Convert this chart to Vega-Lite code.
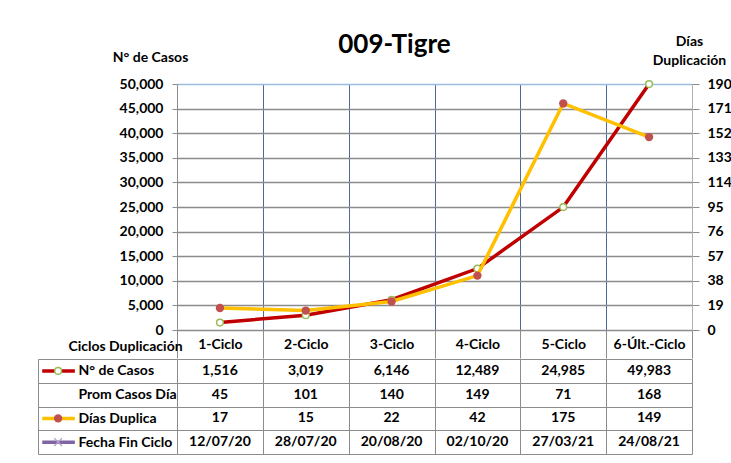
{
  "$schema": "https://vega.github.io/schema/vega-lite/v6.json",
  "autosize": {"type": "pad"},
  "padding": {"left": 37, "top": 32, "right": 0, "bottom": 5},
  "background": "white",
  "title": {"text": "009-Tigre", "fontSize": 26, "fontWeight": "bold", "color": "black", "anchor": "middle", "offset": -24, "dx": 10},
  "datasets": {
    "ciclos": [
      {"ciclo": "1-Ciclo", "casos": 1516, "prom": 45, "dias": 17, "fecha": "12/07/20"},
      {"ciclo": "2-Ciclo", "casos": 3019, "prom": 101, "dias": 15, "fecha": "28/07/20"},
      {"ciclo": "3-Ciclo", "casos": 6146, "prom": 140, "dias": 22, "fecha": "20/08/20"},
      {"ciclo": "4-Ciclo", "casos": 12489, "prom": 149, "dias": 42, "fecha": "02/10/20"},
      {"ciclo": "5-Ciclo", "casos": 24985, "prom": 71, "dias": 175, "fecha": "27/03/21"},
      {"ciclo": "6-Últ.-Ciclo", "casos": 49983, "prom": 168, "dias": 149, "fecha": "24/08/21"}
    ]
  },
  "spacing": -7,
  "vconcat": [
    {
      "width": 515,
      "height": 246,
      "data": {"name": "ciclos"},
      "encoding": {
        "x": {
          "field": "ciclo", "type": "nominal", "sort": null,
          "scale": {"domain": ["1-Ciclo", "2-Ciclo", "3-Ciclo", "4-Ciclo", "5-Ciclo", "6-Últ.-Ciclo"], "paddingInner": 0, "paddingOuter": 0},
          "axis": {
            "title": "Ciclos Duplicación", "titleX": -52, "titleY": 16, "titleAlign": "center", "titleBaseline": "middle",
            "titleFontSize": 14, "titleFontWeight": "bold", "titleColor": "black",
            "labelAngle": 0, "labelFontSize": 14, "labelFontWeight": "bold", "labelColor": "black", "labelPadding": -21, "labelBaseline": "top",
            "tickBand": "extent", "tickSize": 28, "tickColor": "#8c8c8c",
            "domain": true, "domainColor": "#8c8c8c",
            "grid": true, "gridColor": "#4a6a9a", "gridWidth": 1
          }
        }
      },
      "layer": [
        {
          "layer": [
            {
              "mark": {"type": "line", "color": "#c00000", "strokeWidth": 3.5},
              "encoding": {
                "y": {
                  "field": "casos", "type": "quantitative",
                  "scale": {"domain": [0, 50000], "nice": false},
                  "axis": {
                    "title": "N° de Casos", "titleAngle": 0, "titleX": -27, "titleY": -27, "titleAlign": "center", "titleBaseline": "middle",
                    "titleFontSize": 14, "titleFontWeight": "bold", "titleColor": "black",
                    "values": [0, 5000, 10000, 15000, 20000, 25000, 30000, 35000, 40000, 45000, 50000], "tickCount": 11,
                    "format": ",d", "labelOverlap": false, "labelFontSize": 14, "labelFontWeight": "bold", "labelColor": "black", "labelPadding": 9,
                    "tickSize": 5, "tickColor": "#8c8c8c", "domainColor": "#8c8c8c",
                    "grid": true,
                    "gridColor": {"condition": {"test": "datum.value === 50000", "value": "#9dbbe0"}, "value": "#8c8c8c"},
                    "gridWidth": 1.3
                  }
                }
              }
            },
            {
              "mark": {"type": "point", "shape": "circle", "filled": true, "fill": "white", "stroke": "#9bbb59", "strokeWidth": 1.5, "size": 45, "opacity": 1},
              "encoding": {"y": {"field": "casos", "type": "quantitative"}}
            }
          ]
        },
        {
          "layer": [
            {
              "mark": {"type": "line", "color": "#ffc000", "strokeWidth": 3.5},
              "encoding": {
                "y": {
                  "field": "dias", "type": "quantitative",
                  "scale": {"domain": [0, 190], "nice": false},
                  "axis": {
                    "orient": "right",
                    "title": ["Días", "Duplicación"], "titleAngle": 0, "titleX": -3, "titleY": -50, "titleAlign": "center", "titleBaseline": "top",
                    "titleLineHeight": 19, "titleFontSize": 14, "titleFontWeight": "bold", "titleColor": "black",
                    "values": [0, 19, 38, 57, 76, 95, 114, 133, 152, 171, 190], "tickCount": 11,
                    "format": "d", "labelOverlap": false, "labelFontSize": 14, "labelFontWeight": "bold", "labelColor": "black", "labelPadding": 8,
                    "tickSize": 7, "tickColor": "#8c8c8c", "domainColor": "#b0b0b0",
                    "grid": false
                  }
                }
              }
            },
            {
              "mark": {"type": "point", "shape": "circle", "filled": true, "color": "#c0504d", "size": 70, "opacity": 1},
              "encoding": {"y": {"field": "dias", "type": "quantitative"}}
            }
          ]
        }
      ],
      "resolve": {"scale": {"y": "independent"}, "axis": {"y": "independent"}}
    },
    {
      "width": 515,
      "height": 95,
      "layer": [
        {
          "data": {"name": "ciclos"},
          "mark": {"type": "text", "fontSize": 14, "fontWeight": "bold", "color": "black"},
          "encoding": {
            "x": {
              "field": "ciclo", "type": "nominal", "sort": null,
              "scale": {"domain": ["1-Ciclo", "2-Ciclo", "3-Ciclo", "4-Ciclo", "5-Ciclo", "6-Últ.-Ciclo"], "paddingInner": 0, "paddingOuter": 0},
              "axis": {"title": null, "labels": false, "ticks": false, "domain": false, "grid": true, "tickBand": "extent", "gridColor": "#8c8c8c", "gridWidth": 1}
            },
            "y": {
              "datum": "N° de Casos", "type": "nominal",
              "scale": {"domain": ["N° de Casos", "Prom Casos Día", "Días Duplica", "Fecha Fin Ciclo"], "paddingInner": 0, "paddingOuter": 0},
              "axis": {
                "title": null, "tickBand": "extent", "offset": 139, "tickSize": -139, "tickColor": "#8c8c8c",
                "domain": true, "domainColor": "#8c8c8c", "grid": true, "gridColor": "#8c8c8c", "gridWidth": 1,
                "labelAlign": "left", "labelPadding": 99, "labelFontSize": 14, "labelFontWeight": "bold", "labelColor": "black"
              }
            },
            "text": {"field": "casos", "type": "quantitative", "format": ","}
          }
        },
        {
          "data": {"name": "ciclos"},
          "mark": {"type": "text", "fontSize": 14, "fontWeight": "bold", "color": "black"},
          "encoding": {
            "x": {"field": "ciclo", "type": "nominal", "sort": null, "scale": {"domain": ["1-Ciclo", "2-Ciclo", "3-Ciclo", "4-Ciclo", "5-Ciclo", "6-Últ.-Ciclo"], "paddingInner": 0, "paddingOuter": 0}, "axis": null},
            "y": {"datum": "Prom Casos Día", "type": "nominal"},
            "text": {"field": "prom", "type": "quantitative"}
          }
        },
        {
          "data": {"name": "ciclos"},
          "mark": {"type": "text", "fontSize": 14, "fontWeight": "bold", "color": "black"},
          "encoding": {
            "x": {"field": "ciclo", "type": "nominal", "sort": null, "scale": {"domain": ["1-Ciclo", "2-Ciclo", "3-Ciclo", "4-Ciclo", "5-Ciclo", "6-Últ.-Ciclo"], "paddingInner": 0, "paddingOuter": 0}, "axis": null},
            "y": {"datum": "Días Duplica", "type": "nominal"},
            "text": {"field": "dias", "type": "quantitative"}
          }
        },
        {
          "data": {"name": "ciclos"},
          "mark": {"type": "text", "fontSize": 14, "fontWeight": "bold", "color": "black"},
          "encoding": {
            "x": {"field": "ciclo", "type": "nominal", "sort": null, "scale": {"domain": ["1-Ciclo", "2-Ciclo", "3-Ciclo", "4-Ciclo", "5-Ciclo", "6-Últ.-Ciclo"], "paddingInner": 0, "paddingOuter": 0}, "axis": null},
            "y": {"datum": "Fecha Fin Ciclo", "type": "nominal"},
            "text": {"field": "fecha", "type": "nominal"}
          }
        },
        {
          "data": {"values": [{}]},
          "mark": {"type": "rule", "color": "#c00000", "strokeWidth": 3.5},
          "encoding": {
            "x": {"datum": -1.57, "type": "quantitative", "scale": {"domain": [0, 6], "nice": false, "zero": false}, "axis": null},
            "x2": {"datum": -1.19},
            "y": {"datum": "N° de Casos", "type": "nominal"}
          }
        },
        {
          "data": {"values": [{}]},
          "mark": {"type": "point", "shape": "circle", "filled": true, "fill": "white", "stroke": "#9bbb59", "strokeWidth": 1.5, "size": 45, "opacity": 1},
          "encoding": {
            "x": {"datum": -1.385, "type": "quantitative", "scale": {"domain": [0, 6], "nice": false, "zero": false}, "axis": null},
            "y": {"datum": "N° de Casos", "type": "nominal"}
          }
        },
        {
          "data": {"values": [{}]},
          "mark": {"type": "rule", "color": "#ffc000", "strokeWidth": 3.5},
          "encoding": {
            "x": {"datum": -1.57, "type": "quantitative", "scale": {"domain": [0, 6], "nice": false, "zero": false}, "axis": null},
            "x2": {"datum": -1.19},
            "y": {"datum": "Días Duplica", "type": "nominal"}
          }
        },
        {
          "data": {"values": [{}]},
          "mark": {"type": "point", "shape": "circle", "filled": true, "color": "#c0504d", "size": 70, "opacity": 1},
          "encoding": {
            "x": {"datum": -1.385, "type": "quantitative", "scale": {"domain": [0, 6], "nice": false, "zero": false}, "axis": null},
            "y": {"datum": "Días Duplica", "type": "nominal"}
          }
        },
        {
          "data": {"values": [{}]},
          "mark": {"type": "rule", "color": "#8064a2", "strokeWidth": 3.5},
          "encoding": {
            "x": {"datum": -1.57, "type": "quantitative", "scale": {"domain": [0, 6], "nice": false, "zero": false}, "axis": null},
            "x2": {"datum": -1.19},
            "y": {"datum": "Fecha Fin Ciclo", "type": "nominal"}
          }
        },
        {
          "data": {"values": [{}]},
          "mark": {"type": "point", "shape": "M-1,-1L1,1M1,-1L-1,1", "filled": false, "stroke": "#b3a2c7", "strokeWidth": 1.2, "size": 60, "opacity": 1},
          "encoding": {
            "x": {"datum": -1.385, "type": "quantitative", "scale": {"domain": [0, 6], "nice": false, "zero": false}, "axis": null},
            "y": {"datum": "Fecha Fin Ciclo", "type": "nominal"}
          }
        }
      ],
      "resolve": {"scale": {"x": "independent"}}
    }
  ],
  "config": {
    "font": "Lato",
    "view": {"stroke": null},
    "axis": {"labelFont": "Lato", "titleFont": "Lato"},
    "title": {"font": "Lato"}
  }
}
